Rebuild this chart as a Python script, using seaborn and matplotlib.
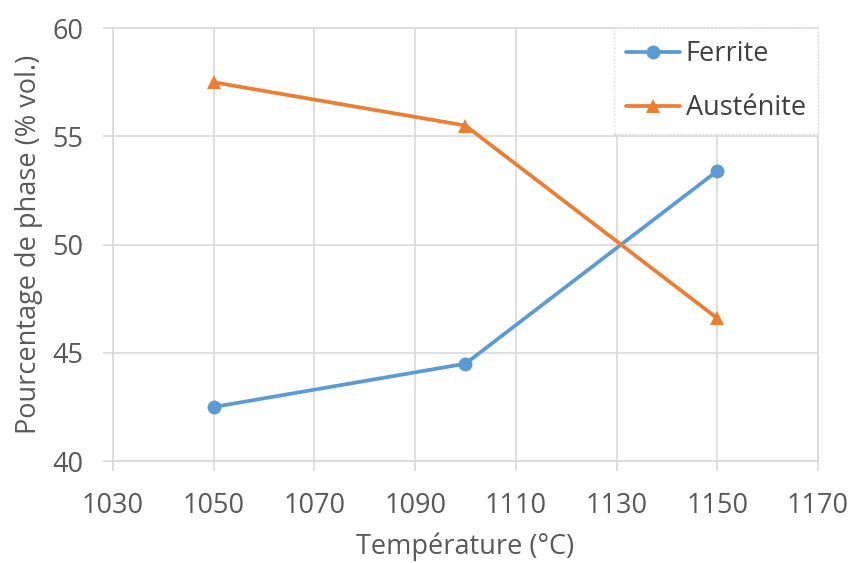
import matplotlib
matplotlib.use("Agg")
import pandas as pd
import matplotlib.pyplot as plt
import seaborn as sns

temperatures = [1050, 1100, 1150]
ferrite = [42.5, 44.5, 53.4]
austenite = [57.5, 55.5, 46.6]
x_ticks = [1030, 1050, 1070, 1090, 1110, 1130, 1150, 1170]
y_ticks = [40, 45, 50, 55, 60]

df = pd.DataFrame({
    "T": temperatures * 2,
    "val": ferrite + austenite,
    "phase": ["Ferrite"] * 3 + ["Austénite"] * 3,
})

sns.set_style("whitegrid")
plt.rcParams['font.family'] = ['Open Sans', 'DejaVu Sans']

fig = plt.figure(figsize=(8.52, 5.63), dpi=100)
ax = fig.add_axes([0.1326, 0.181, 0.8274, 0.769])

palette = {"Ferrite": "#5B9BD5", "Austénite": "#ED7D31"}
sns.lineplot(data=df, x="T", y="val", hue="phase", style="phase",
             markers={"Ferrite": "o", "Austénite": "^"}, dashes=False,
             palette=palette, linewidth=2.7, markersize=10,
             markeredgewidth=0, ax=ax)

ax.set_xlim(1030, 1170)
ax.set_ylim(40, 60)
ax.set_xticks(x_ticks)
ax.set_yticks(y_ticks)
ax.grid(True, color="#D9D9D9", linewidth=1.2)
for s in ax.spines.values():
    s.set_color("#D9D9D9")
    s.set_linewidth(1.2)
# Excel-style little outward ticks in the grid colour
ax.tick_params(axis="both", labelsize=19.5, labelcolor="#595959",
               length=7, width=1.2, color="#D9D9D9", direction="out",
               bottom=True, left=True)
ax.tick_params(axis="x", pad=15)
ax.tick_params(axis="y", pad=14)
ax.set_xlabel("Température (°C)", fontsize=19.5, color="#595959", labelpad=9)
ax.set_ylabel("Pourcentage de phase (% vol.)", fontsize=19.5, color="#595959", labelpad=7)

leg = ax.legend(loc="upper right", fontsize=19.5, frameon=True, fancybox=False,
                borderpad=0.45, labelspacing=0.95, handlelength=2.0, handletextpad=0.2,
                borderaxespad=0.0)
leg.get_frame().set_edgecolor("#D9D9D9")
leg.get_frame().set_linestyle(":")
leg.get_frame().set_alpha(1)
for t in leg.get_texts():
    t.set_color("#404040")

fig.savefig("out.png", dpi=100)
